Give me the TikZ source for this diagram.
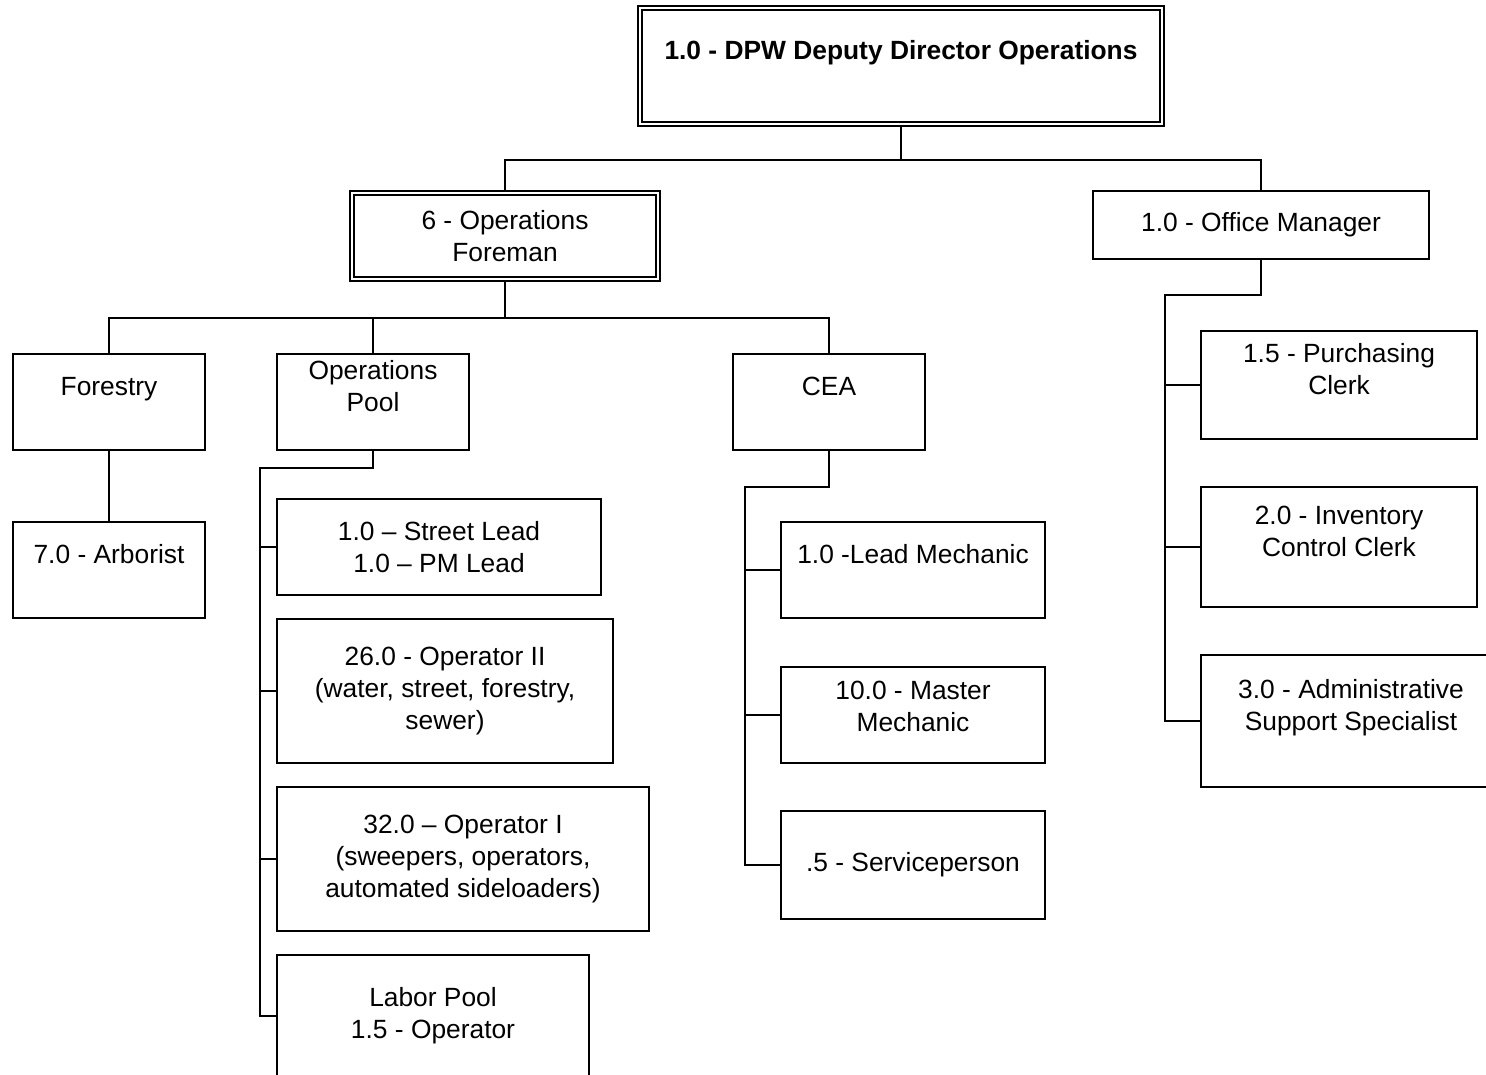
\documentclass[tikz,border=0pt]{standalone}
\usepackage{fontspec}
\setmainfont{Liberation Sans}
\tikzset{
  box/.style={draw, rectangle, line width=1.1pt, align=center, inner sep=0pt,
    font=\fontsize{15pt}{18.2pt}\selectfont},
  dblbox/.style={box, double, double distance=1.3pt, line width=1pt},
}
\begin{document}
\begin{tikzpicture}[x=0.02cm, y=-0.02cm]
      \useasboundingbox (0,0) rectangle (1486,1074);
      \node[dblbox, minimum width=10.44cm, minimum height=2.32cm] (dir) at (901,66)
        {\textbf{1.0 - DPW Deputy Director Operations}\\~};
      \node[dblbox, minimum width=6.12cm, minimum height=1.72cm] (fore) at (505,236)
        {6 - Operations\\Foreman};
      \node[box, minimum width=6.72cm, minimum height=1.36cm] (mgr) at (1261,225)
        {1.0 - Office Manager};
      \node[box, minimum width=3.84cm, minimum height=1.92cm] (forestry) at (109,402) {Forestry\\~};
      \node[box, minimum width=3.84cm, minimum height=1.92cm] (pool) at (373,402) {Operations\\Pool\\~};
      \node[box, minimum width=3.84cm, minimum height=1.92cm] (cea) at (829,402) {CEA\\~};
      \node[box, minimum width=3.84cm, minimum height=1.92cm] (arb) at (109,570) {7.0 - Arborist\\~};
      \node[box, minimum width=6.48cm, minimum height=1.92cm] (street) at (439,547)
        {1.0 -- Street Lead\\1.0 -- PM Lead};
      \node[box, minimum width=6.72cm, minimum height=2.88cm] (op2) at (445,691)
        {26.0 - Operator II\\(water, street, forestry,\\sewer)};
      \node[box, minimum width=7.44cm, minimum height=2.88cm] (op1) at (463,859)
        {32.0 -- Operator I\\(sweepers, operators,\\automated sideloaders)};
      \node[box, minimum width=6.24cm, minimum height=2.44cm] (labor) at (433,1016)
        {Labor Pool\\1.5 - Operator};
      \node[box, minimum width=5.28cm, minimum height=1.92cm] (lead) at (913,570) {1.0 -Lead Mechanic\\~};
      \node[box, minimum width=5.28cm, minimum height=1.92cm] (master) at (913,715)
        {10.0 - Master\\Mechanic\\[-0.3cm]~};
      \node[box, minimum width=5.28cm, minimum height=2.16cm] (serv) at (913,865) {.5 - Serviceperson};
      \node[box, minimum width=5.52cm, minimum height=2.16cm] (purch) at (1339,385)
        {1.5 - Purchasing\\Clerk\\~};
      \node[box, minimum width=5.52cm, minimum height=2.4cm] (inv) at (1339,547)
        {2.0 - Inventory\\Control Clerk\\~};
      \node[box, minimum width=6.0cm, minimum height=2.64cm] (admin) at (1351,721)
        {3.0 - Administrative\\Support Specialist\\~};
      \coordinate (topbus) at (901,160);
      \coordinate (forebus) at (505,318);
      \coordinate (poolbus) at (260,468);
      \coordinate (ceabus) at (745,487);
      \coordinate (mgrbus) at (1165,295);
      \begin{scope}[line width=1.1pt]
        \draw (dir.south) -- (topbus);
        \draw (fore.north) |- (topbus) -| (mgr.north);
        \draw (fore.south) -- (forebus);
        \draw (forestry.north) |- (forebus) -| (cea.north);
        \draw (pool.north) -- (pool.north |- forebus);
        \draw (forestry.south) -- (arb.north);
        \draw (pool.south) |- (poolbus) |- (labor.west);
        \draw (street.west) -- (street.west -| poolbus);
        \draw (op2.west) -- (op2.west -| poolbus);
        \draw (op1.west) -- (op1.west -| poolbus);
        \draw (cea.south) |- (ceabus) |- (serv.west);
        \draw (lead.west) -- (lead.west -| ceabus);
        \draw (master.west) -- (master.west -| ceabus);
        \draw (mgr.south) |- (mgrbus) |- (admin.west);
        \draw (purch.west) -- (purch.west -| mgrbus);
        \draw (inv.west) -- (inv.west -| mgrbus);
      \end{scope}
    \end{tikzpicture}
\end{document}
